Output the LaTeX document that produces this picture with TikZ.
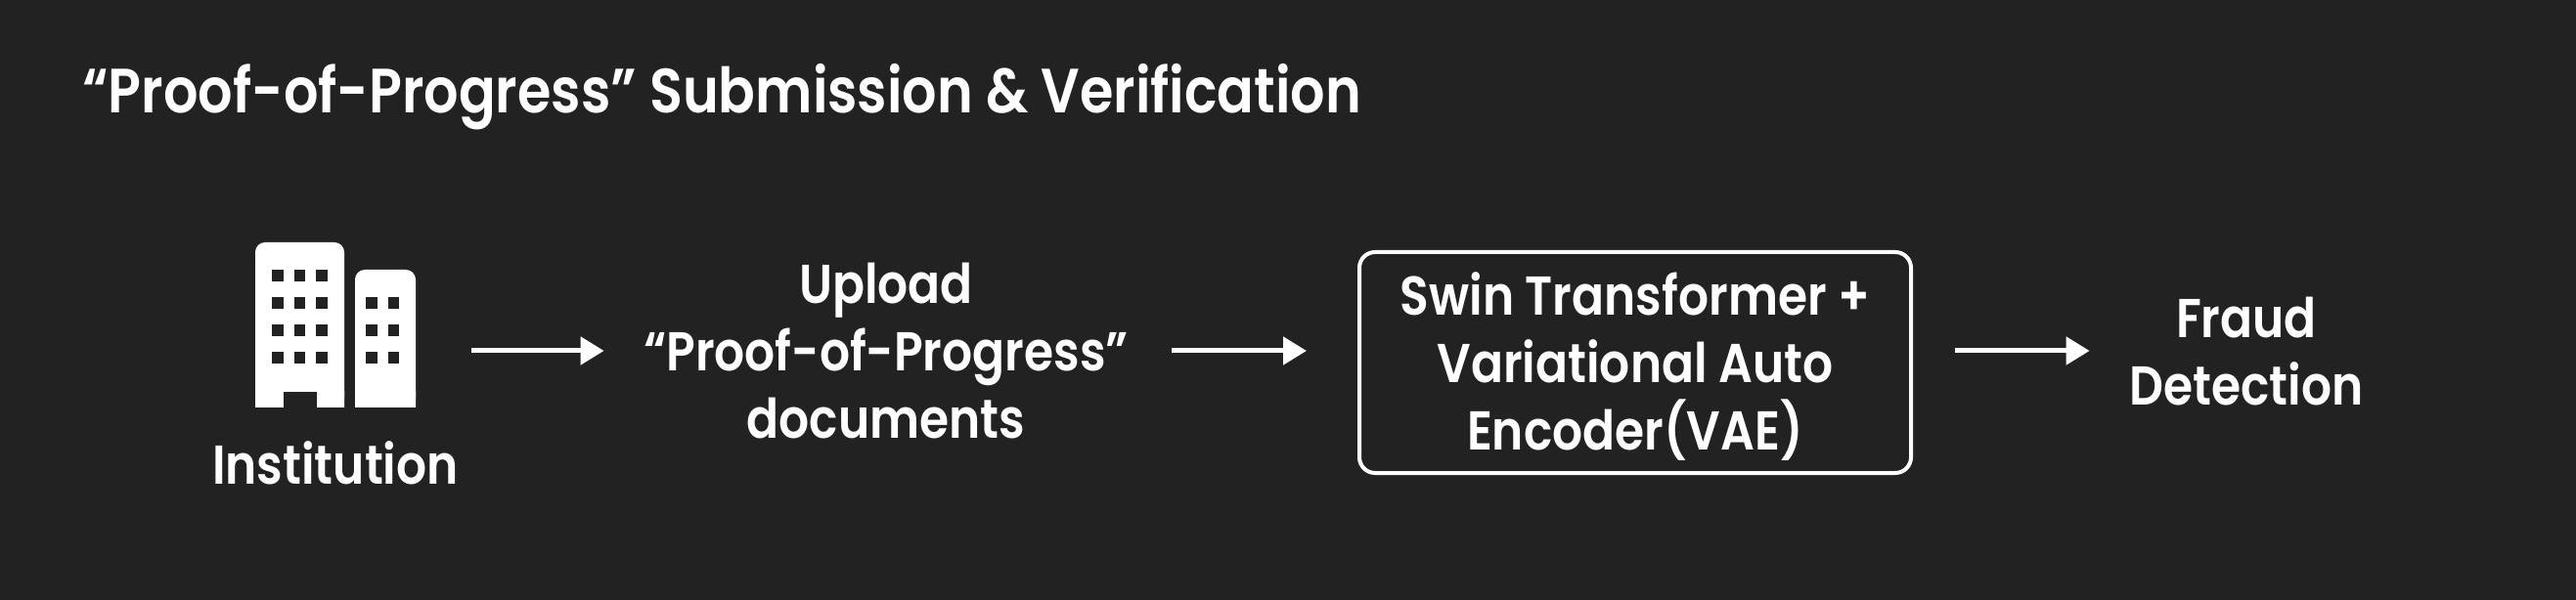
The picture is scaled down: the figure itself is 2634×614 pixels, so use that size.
\documentclass[tikz,border=0pt]{standalone}
\usepackage{fontspec}
\setmainfont[FakeStretch=.87]{Poppins SemiBold}
\usetikzlibrary{positioning,arrows.meta}
\definecolor{bgdark}{HTML}{222222}
\begin{document}
\begin{tikzpicture}[x=.5pt,y=-.5pt,
	label/.style = {text=white, align=center, inner sep=0, font=\fontsize{28}{34.5}\selectfont},
	flow/.style = {draw=white, line width=2.5pt, -{Triangle[length=12pt,width=14pt]}},
	window/.style = {fill=bgdark, minimum size=5.8pt, inner sep=0}]
	\fill[bgdark] (0,0) rectangle (2634,614);
	\node[label, anchor=base west, font=\fontsize{32}{38}\selectfont] (title) at (84,116) {“Proof-of-Progress” Submission \& Verification};
	% building icon
	\node[minimum width=82pt, minimum height=84.5pt, inner sep=0] (icon) at (343,332.5) {};
	\fill[white, rounded corners=5pt] (261,417) -- (261,248) -- (352,248) -- (352,417) -- cycle;
	\fill[white, rounded corners=5pt] (363,417) -- (363,276) -- (425,276) -- (425,417) -- cycle;
	\fill[white] (261,417) rectangle (300,400) (320,417) rectangle (352,400) (363,417) rectangle (425,400);
	\fill[bgdark] (290,401) rectangle (323.5,418);
	\foreach \y in {282,310,338,366}
		\foreach \x in {284,306.5,329}
			\node[window] at (\x,\y) {};
	\foreach \y in {310,338,366}
		\foreach \x in {380,402.5}
			\node[window] at (\x,\y) {};
	\node[label] (institution) [below=17pt of icon.south] {Institution};
	\node[label, text width=280pt] (upload) at (906,359) {Upload\\“Proof-of-Progress”\\documents};
	\node[label, draw=white, line width=2pt, rounded corners=8pt, minimum width=282pt, minimum height=113pt] (model) at (1672,371) {\rule{0pt}{26pt}Swin Transformer +\\Variational Auto\\Encoder(VAE)};
	\node[label, text width=140pt] (fraud) at (2297,360) {Fraud\\Detection};
	\coordinate (row) at (0,359);
	\draw[flow, shorten <=28.5pt, shorten >=4pt] (icon.east |- row) -- (upload.west |- row);
	\draw[flow, shorten <=6pt, shorten >=26pt] (upload.east |- row) -- (model.west |- row);
	\draw[flow, shorten <=21.5pt, shorten >=10pt] (model.east |- row) -- (fraud.west |- row);
\end{tikzpicture}
\end{document}
